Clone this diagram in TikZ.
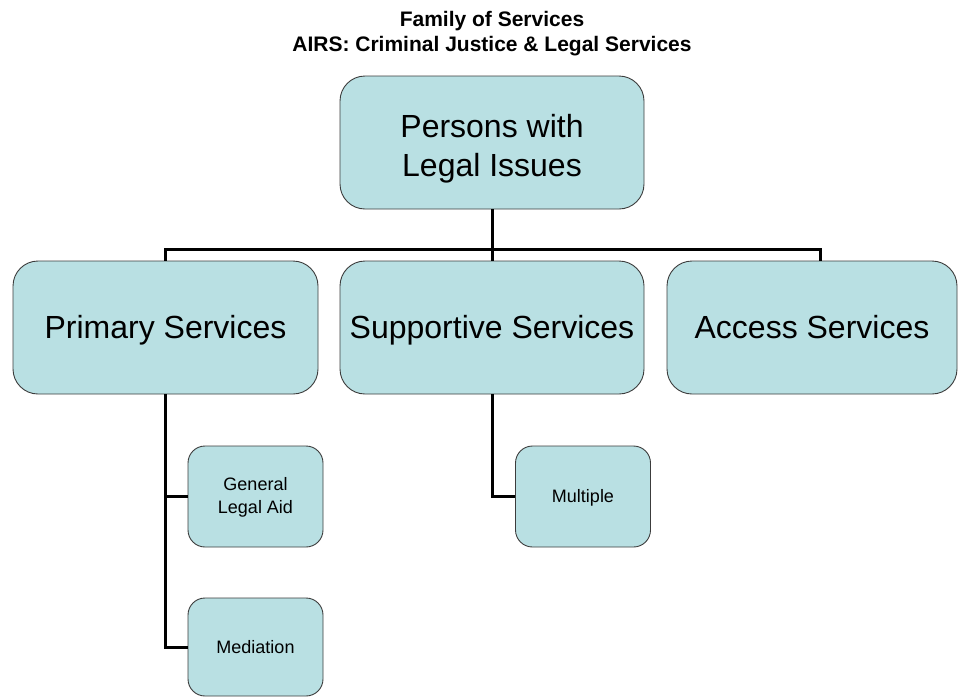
\documentclass[tikz,border=0pt]{standalone}
\usepackage{fontspec}
\setmainfont{Liberation Sans}
\definecolor{boxfill}{RGB}{185,224,227}
\definecolor{boxline}{RGB}{60,60,60}
\tikzset{
  box/.style={draw=boxline, fill=boxfill, line width=0.9pt, rounded corners=25pt,
    align=center, inner sep=0pt},
  bigbox/.style={box, minimum height=133pt, font=\fontsize{32}{39}\selectfont,
    text height=29pt, text depth=6.8pt},
  smallbox/.style={box, rounded corners=17pt, minimum width=135pt,
    font=\fontsize{18}{22.5}\selectfont, text height=16.3pt, text depth=3.8pt},
  conn/.style={draw=black, line width=3pt, line join=miter},
  titletext/.style={align=center, inner sep=0pt, font=\fontsize{21}{25}\bfseries\selectfont,
    text height=44pt, text depth=4.5pt}
}
\begin{document}
\begin{tikzpicture}[x=1pt,y=-1pt]
\useasboundingbox (0,0) rectangle (958,697);
\node[titletext] (title) at (492,31.25) {Family of Services\\AIRS: Criminal Justice \& Legal Services};
\node[bigbox, minimum width=304pt, text height=73.8pt] (top) at (492,142.5) {Persons with\\Legal Issues};
\node[bigbox, minimum width=305pt] (prim) at (165.5,327.5) {Primary Services};
\node[bigbox, minimum width=304pt] (sup) at (492,327.5) {Supportive Services};
\node[bigbox, minimum width=290pt] (acc) at (812,327.5) {Access Services};
\node[smallbox, minimum height=101pt, text height=37.4pt] (gla) at (255.5,496.5) {General\\Legal Aid};
\node[smallbox, minimum height=98pt] (med) at (255.5,647) {Mediation};
\node[smallbox, minimum height=101pt] (mult) at (583,496.5) {Multiple};
\coordinate (hub) at (492,249);
\coordinate (accjoin) at (820,261);
\draw[conn] (top.south) -- (hub);
\draw[conn] (prim.north) |- (hub);
\draw[conn] (sup.north) -- (hub);
\draw[conn] (hub) -| (accjoin);
\draw[conn] (prim.south) |- (gla.west);
\draw[conn] (prim.south) |- (med.west);
\draw[conn] (sup.south) |- (mult.west);
\end{tikzpicture}
\end{document}
